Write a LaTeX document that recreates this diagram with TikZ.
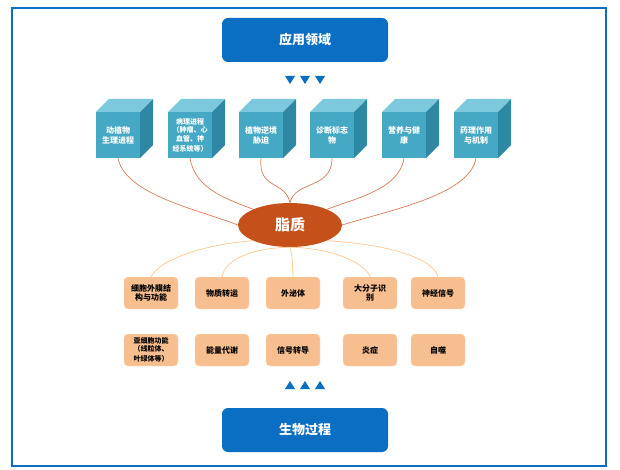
\documentclass[tikz,border=0pt]{standalone}
\usetikzlibrary{shapes.geometric}
\usepackage{fontspec}
\setmainfont{Noto Sans CJK SC}
\definecolor{bb}{HTML}{0A6FC2}
\definecolor{cf}{HTML}{45A8C4}
\definecolor{ct}{HTML}{7CC8DC}
\definecolor{cs}{HTML}{2F88A3}
\definecolor{ob}{HTML}{F7BE8F}
\definecolor{el}{HTML}{C5501A}
\begin{document}
\begin{tikzpicture}[x=1pt,y=-1pt,
 bluebox/.style={draw=none,fill=bb,rounded corners=6pt,minimum width=166pt,minimum height=44pt,text=white,font=\fontsize{13}{15}\selectfont\bfseries},
 obox/.style={fill=ob,draw=orange!25,rounded corners=4pt,minimum width=54pt,minimum height=32pt,text width=50pt,align=center,font=\fontsize{8}{9.5}\selectfont\bfseries,inner sep=1pt},
 ctext/.style={text=white,text width=44pt,align=center,font=\fontsize{8}{10}\selectfont\bfseries,inner sep=0pt},
 brline/.style={draw=brown!70!red!80,line width=0.7pt},
 orline/.style={draw=orange!50,line width=0.6pt},
 tri/.style={fill=bb}]
\useasboundingbox (0,0) rectangle (620,470);
\draw[bb,line width=1.2pt] (12,8) rectangle (606,466);
\node[bluebox] (top) at (305,40) {应用领域};
\node[bluebox] (bot) at (305,430) {生物过程};
\foreach \x in {290,305,320}{\fill[tri] (\x-5,76) -- (\x+5,76) -- (\x,84) -- cycle;}
\foreach \x in {290,305,320}{\fill[tri] (\x-5,389) -- (\x+5,389) -- (\x,381) -- cycle;}
\node[ellipse,fill=el,minimum width=104pt,minimum height=44pt,text=white,font=\fontsize{15}{17}\selectfont\bfseries] (lip) at (290,225) {脂质};
% cubes
\foreach \x/\n/\t in {118/c1/{动植物\\生理进程},190/c2/{\fontsize{7}{8.5}\selectfont 病理进程\\（肿瘤、心\\血管、神\\经系统等）},261/c3/{植物逆境\\胁迫},332/c4/{诊断标志\\物},404/c5/{营养与健\\康},476/c6/{药理作用\\与机制}}{
  \fill[ct] (\x-22,112) -- (\x-9,99) -- (\x+35,99) -- (\x+22,112) -- cycle;
  \fill[cs] (\x+22,112) -- (\x+35,99) -- (\x+35,145) -- (\x+22,158) -- cycle;
  \fill[cf] (\x-22,112) rectangle (\x+22,158);
  \node[ctext] (\n) at (\x,135) {\t};
}
\coordinate (b1) at (118,158); \coordinate (b2) at (190,158); \coordinate (b3) at (261,158);
\coordinate (b4) at (332,158); \coordinate (b5) at (404,158); \coordinate (b6) at (476,158);
\draw[brline] (b1) .. controls (125,195) and (200,210) .. (lip.west);
\draw[brline] (b2) .. controls (195,190) and (230,200) .. (lip.north west);
\draw[brline] (b3) .. controls (258,190) and (285,180) .. (lip.north);
\draw[brline] (b4) .. controls (332,190) and (295,180) .. (lip.north);
\draw[brline] (b5) .. controls (400,190) and (350,200) .. (lip.north east);
\draw[brline] (b6) .. controls (470,195) and (390,210) .. (lip.east);
% orange boxes
\foreach \x/\n/\t in {151/o1/{细胞外膜结\\构与功能},222/o2/{物质转运},293/o3/{外泌体},370/o4/{大分子识\\别},438/o5/{神经信号}}{
  \node[obox] (\n) at (\x,293) {\t};}
\foreach \x/\n/\t in {151/p1/{\fontsize{7}{8}\selectfont 亚细胞功能\\（线粒体、\\叶绿体等）},222/p2/{能量代谢},293/p3/{信号转导},370/p4/{炎症},438/p5/{自噬}}{
  \node[obox] (\n) at (\x,350) {\t};}
\draw[orline] (lip.south west) .. controls (200,245) and (160,260) .. (o1.north);
\draw[orline] (lip.south) .. controls (250,248) and (225,260) .. (o2.north);
\draw[orline] (lip.south) .. controls (292,255) .. (o3.north);
\draw[orline] (lip.south) .. controls (330,248) and (365,262) .. (o4.north);
\draw[orline] (lip.south east) .. controls (400,245) and (435,262) .. (o5.north);
\end{tikzpicture}
\end{document}
